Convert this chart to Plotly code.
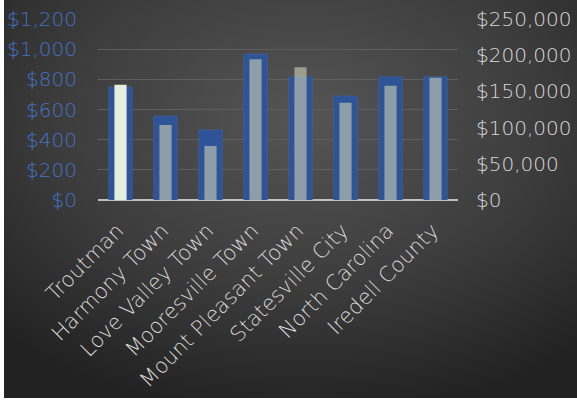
import base64
import plotly.graph_objects as go

categories = ["Troutman", "Harmony Town", "Love Valley Town", "Mooresville Town",
              "Mount Pleasant Town", "Statesville City", "North Carolina", "Iredell County"]
median_rent = [749, 557, 464, 968, 817, 690, 817, 817]
median_home_value = [159300, 103600, 74600, 194300, 183300, 134400, 157900, 168900]

left_ticks = [0, 200, 400, 600, 800, 1000, 1200]
left_tick_labels = ["$0", "$200", "$400", "$600", "$800", "$1,000", "$1,200"]
right_ticks = [0, 50000, 100000, 150000, 200000, 250000]
right_tick_labels = ["$0", "$50,000", "$100,000", "$150,000", "$200,000", "$250,000"]

W, H = 577, 401
L, R, T, B = 98, 119, 19, 201
pw, ph = W - L - R, H - T - B

FONT = "DejaVu Sans"
FS = 20
FSX = 21

svg = (
    '<svg xmlns="http://www.w3.org/2000/svg" width="573" height="398" viewBox="0 0 573 398" preserveAspectRatio="none">'
    '<defs><radialGradient id="g" cx="0.52" cy="0.3" r="0.75" gradientUnits="objectBoundingBox">'
    '<stop offset="0" stop-color="#555555"/><stop offset="0.55" stop-color="#3d3d3d"/>'
    '<stop offset="1" stop-color="#222222"/></radialGradient></defs>'
    '<rect width="573" height="398" fill="url(#g)"/></svg>'
)
src = "data:image/svg+xml;base64," + base64.b64encode(svg.encode()).decode()

def px_to_paper_x(px):
    return (px - L) / pw

def px_to_paper_y(py):
    return (H - B - py) / ph

gray_colors = ["rgba(228,240,220,1)"] + ["rgba(205,208,182,0.6)"] * (len(categories) - 1)

fig = go.Figure()
fig.add_trace(go.Bar(
    x=categories, y=median_rent, yaxis="y", width=0.52,
    marker=dict(color="#2E5396", line=dict(color="rgba(60,100,170,0.6)", width=1)),
    name="Median Rent", showlegend=False,
))
fig.add_trace(go.Bar(
    x=categories, y=median_home_value, yaxis="y2", width=0.27,
    marker=dict(color=gray_colors, line=dict(width=0)),
    name="Median Home Value", showlegend=False,
))

fig.update_layout(
    width=W, height=H,
    margin=dict(l=L, r=R, t=T, b=B, pad=0, autoexpand=False),
    paper_bgcolor="white",
    plot_bgcolor="rgba(0,0,0,0)",
    barmode="overlay",
    font=dict(family=FONT, size=FS, color="#d9d9d9", weight=200),
    images=[dict(
        source=src, xref="paper", yref="paper",
        x=px_to_paper_x(4), y=px_to_paper_y(0),
        sizex=573 / pw, sizey=398 / ph,
        xanchor="left", yanchor="top", sizing="stretch", layer="below",
    )],
    xaxis=dict(
        tickangle=-45, showgrid=False, showline=False, zeroline=False, automargin=False,
        ticks="outside", ticklen=9, tickcolor="rgba(0,0,0,0)",
        ticklabelshift=-3,
        tickfont=dict(family=FONT, size=FSX, color="#d9d9d9", weight=200),
    ),
    yaxis=dict(
        range=[0, 1200], tickvals=left_ticks, ticktext=left_tick_labels, automargin=False,
        showgrid=True, gridcolor="#5e5e5e", gridwidth=1,
        zeroline=True, zerolinecolor="#bfbfbf", zerolinewidth=2,
        showline=False, ticks="outside", ticklen=16, tickcolor="rgba(0,0,0,0)",
        tickfont=dict(family=FONT, size=FS, color="#4472C4", weight=200),
    ),
    yaxis2=dict(
        range=[0, 250000], tickvals=right_ticks, ticktext=right_tick_labels, automargin=False,
        overlaying="y", side="right", showgrid=False, zeroline=False, showline=False,
        ticks="outside", ticklen=13, tickcolor="rgba(0,0,0,0)",
        tickfont=dict(family=FONT, size=FS, color="#d9d9d9", weight=200),
    ),
)

fig.write_html("out.html", config={"displayModeBar": False},
               post_script="document.body.style.margin='0px';")
